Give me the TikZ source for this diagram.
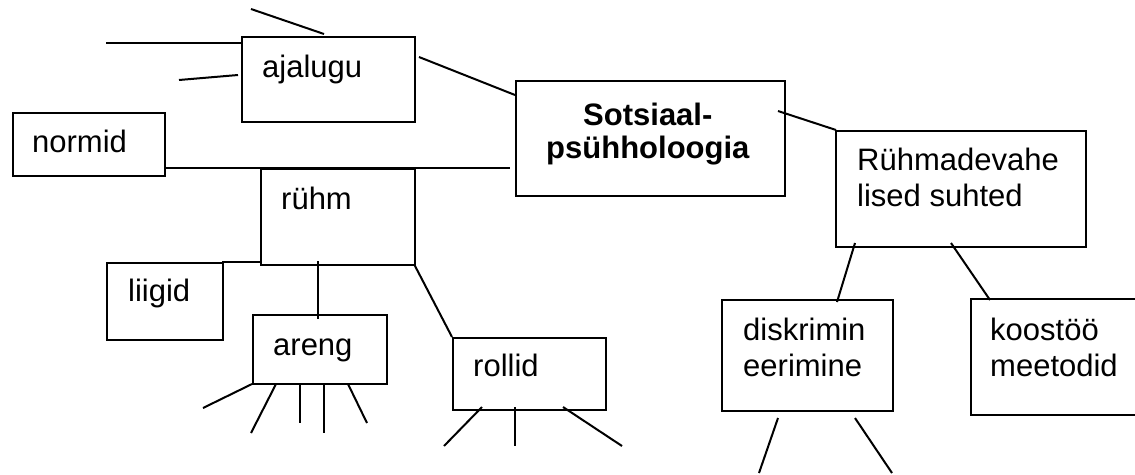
\documentclass[tikz,border=0pt]{standalone}
\usepackage{fontspec}
\setmainfont{Liberation Sans}
\usetikzlibrary{calc}
\tikzset{
  box/.style={draw, line width=2pt, inner sep=0pt, anchor=north west},
  lbl/.style={inner sep=0pt, anchor=base west, font=\fontsize{31}{36.7}\selectfont, align=left},
  conn/.style={line width=2pt},
}
\begin{document}
\begin{tikzpicture}[x=1pt,y=-1pt]
\useasboundingbox (0,0) rectangle (1135,474);
% boxes
\node[box, minimum width=173pt, minimum height=85pt] (aj) at (241,36) {};
\node[box, minimum width=152pt, minimum height=63pt] (norm) at (12,112) {};
\node[box, minimum width=269pt, minimum height=115pt] (soc) at (515,80) {};
\node[box, minimum width=154pt, minimum height=96pt] (ruhm) at (260,168) {};
\node[box, minimum width=250pt, minimum height=116pt] (rvs) at (835,130) {};
\node[box, minimum width=116pt, minimum height=77pt] (liig) at (106,262) {};
\node[box, minimum width=134pt, minimum height=69pt] (areng) at (252,314) {};
\node[box, minimum width=153pt, minimum height=72pt] (roll) at (452,337) {};
\node[box, minimum width=171pt, minimum height=111pt] (disk) at (721,299) {};
\node[box, minimum width=180pt, minimum height=116pt] (koos) at (970,298) {};
% texts
\node[lbl] (taj) at (262,77) {ajalugu};
\node[lbl] (tnorm) at (32,152) {normid};
\node[lbl, font=\fontsize{31}{33}\selectfont\bfseries] (tsoc1) at (583,125) {Sotsiaal-};
\node[lbl, font=\fontsize{31}{33}\selectfont\bfseries] (tsoc2) at (546,158) {psühholoogia};
\node[lbl] (trvs1) at (857,170) {Rühmadevahe};
\node[lbl] (trvs2) at (857,206.7) {lised suhted};
\node[lbl] (truhm) at (281,209) {rühm};
\node[lbl] (tliig) at (128,301.7) {liigid};
\node[lbl] (tareng) at (273,355) {areng};
\node[lbl] (troll) at (473,376.7) {rollid};
\node[lbl] (tdisk1) at (743,340) {diskrimin};
\node[lbl] (tdisk2) at (743,376.7) {eerimine};
\node[lbl] (tkoos1) at (990,340) {koostöö};
\node[lbl] (tkoos2) at (990,376.7) {meetodid};
% free ends and attachment points
\coordinate (a1) at (251,9);
\coordinate (a2) at (324,34);
\coordinate (b1) at (106,43);
\coordinate (b2) at (241,43);
\coordinate (c1) at (179,80);
\coordinate (c2) at (238,75);
\coordinate (d1) at (419,57);
\coordinate (d2) at (515,95);
\coordinate (e1) at (164,168);
\coordinate (e2) at (510,168);
\coordinate (f1) at (222,262);
\coordinate (f2) at (260,262);
\coordinate (g1) at (318,261);
\coordinate (g2) at (318,319);
\coordinate (h1) at (414,264);
\coordinate (h2) at (452,337);
\coordinate (i1) at (778,111);
\coordinate (i2) at (836,130);
\coordinate (j1) at (855,243);
\coordinate (j2) at (837,302);
\coordinate (k1) at (951,243);
\coordinate (k2) at (990,300);
% areng legs
\coordinate (m1a) at (252,384); \coordinate (m1b) at (203,408);
\coordinate (m2a) at (276,384); \coordinate (m2b) at (251,433);
\coordinate (m3a) at (300,384); \coordinate (m3b) at (300,423);
\coordinate (m4a) at (324,384); \coordinate (m4b) at (324,433);
\coordinate (m5a) at (348,384); \coordinate (m5b) at (367,423);
% rollid legs
\coordinate (n1a) at (482,407); \coordinate (n1b) at (444,446);
\coordinate (n2a) at (515,407); \coordinate (n2b) at (515,446);
\coordinate (n3a) at (563,407); \coordinate (n3b) at (622,446);
% disk legs
\coordinate (p1a) at (778,418); \coordinate (p1b) at (759,473);
\coordinate (p2a) at (855,418); \coordinate (p2b) at (892,473);
% connectors
\draw[conn] (a1) -- (a2);
\draw[conn] (b1) -- (b2);
\draw[conn] (c1) -- (c2);
\draw[conn] (d1) -- (d2);
\draw[conn] (e1) -- (e2);
\draw[conn] (f1) -- (f2);
\draw[conn] (g1) -- (g2);
\draw[conn] (h1) -- (h2);
\draw[conn] (i1) -- (i2);
\draw[conn] (j1) -- (j2);
\draw[conn] (k1) -- (k2);
\draw[conn] (m1a) -- (m1b);
\draw[conn] (m2a) -- (m2b);
\draw[conn] (m3a) -- (m3b);
\draw[conn] (m4a) -- (m4b);
\draw[conn] (m5a) -- (m5b);
\draw[conn] (n1a) -- (n1b);
\draw[conn] (n2a) -- (n2b);
\draw[conn] (n3a) -- (n3b);
\draw[conn] (p1a) -- (p1b);
\draw[conn] (p2a) -- (p2b);
\end{tikzpicture}
\end{document}
